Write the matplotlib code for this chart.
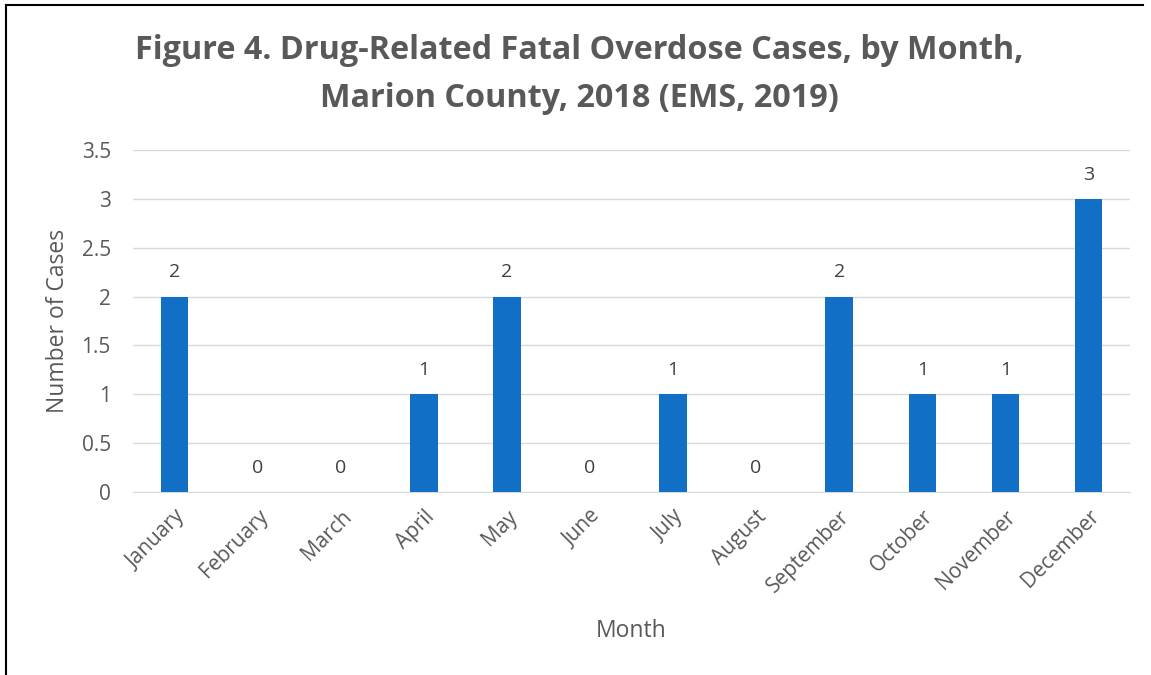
import matplotlib.pyplot as plt
from matplotlib.lines import Line2D

# dati del grafico
months = ['January', 'February', 'March', 'April', 'May', 'June',
          'July', 'August', 'September', 'October', 'November', 'December']
cases = [2, 0, 0, 1, 2, 0, 1, 0, 2, 1, 1, 3]
y_ticks = [0, 0.5, 1, 1.5, 2, 2.5, 3, 3.5]

plt.rcParams['font.family'] = ['Open Sans', 'DejaVu Sans']
grey = '#595959'

fig = plt.figure(figsize=(11.51, 6.75), dpi=100)
ax = fig.add_axes([0.1156, 0.2711, 0.8661, 0.5067])

x = range(len(months))
ax.bar(x, cases, width=0.33, color='#1170C6', zorder=3)
for xi, v in zip(x, cases):
    ax.annotate(str(v), (xi, v), xytext=(0, 11), textcoords='offset points',
                ha='center', va='bottom', fontsize=14, color='#404040')

ax.set_xlim(-0.5, len(months) - 0.5)
ax.set_ylim(0, 3.5)
ax.set_yticks(y_ticks)
ax.set_yticklabels([f'{t:g}' for t in y_ticks])
ax.set_xticks(list(x))
ax.set_xticklabels(months, rotation=45, ha='right', rotation_mode='anchor')
ax.tick_params(axis='both', length=0, labelsize=15, labelcolor=grey)
ax.tick_params(axis='y', pad=16)
ax.tick_params(axis='x', pad=10)
ax.grid(axis='y', color='#D9D9D9', linewidth=1, zorder=0)
for s in ['top', 'right', 'left']:
    ax.spines[s].set_visible(False)
ax.spines['bottom'].set_color('#D9D9D9')

ax.set_xlabel('Month', fontsize=16.5, color=grey, labelpad=16)
ax.set_ylabel('Number of Cases', fontsize=16.5, color=grey, labelpad=8)

fig.text(0.503, 0.889, 'Figure 4. Drug-Related Fatal Overdose Cases, by Month,\nMarion County, 2018 (EMS, 2019)',
         ha='center', va='center', fontsize=23.3, fontweight='bold', color=grey,
         linespacing=1.6)

# cornice (solo lato sinistro e superiore visibili)
fig.add_artist(Line2D([0.005, 0.005], [0, 0.993], transform=fig.transFigure, color='black', linewidth=1.5))
fig.add_artist(Line2D([0.005, 0.993], [0.993, 0.993], transform=fig.transFigure, color='black', linewidth=1.5))

plt.savefig('out.png', dpi=100)
